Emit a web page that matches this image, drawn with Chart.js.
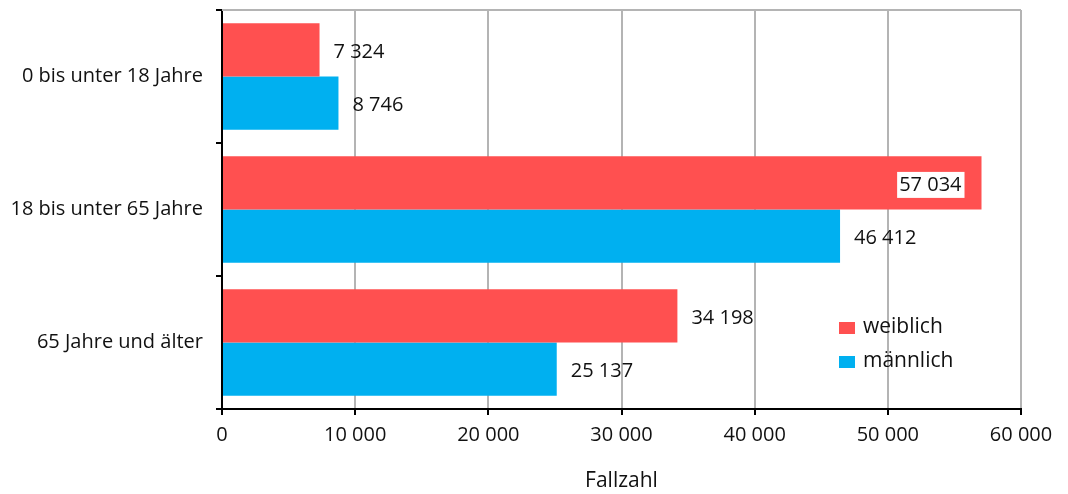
<!DOCTYPE html>
<html>
<head>
<meta charset="utf-8">
<script src="https://cdn.jsdelivr.net/npm/chart.js@4/dist/chart.umd.min.js"></script>
<style>
html,body{margin:0;padding:0;background:#fff;}
canvas{display:block;}
</style>
</head>
<body>
<canvas id="c" width="1068" height="494"></canvas>
<script>
const categories = ['0 bis unter 18 Jahre', '18 bis unter 65 Jahre', '65 Jahre und älter'];
const seriesNames = ['weiblich', 'männlich'];
const weiblich = [7324, 57034, 34198];
const maennlich = [8746, 46412, 25137];
const xTicks = [0, 10000, 20000, 30000, 40000, 50000, 60000];
const axisTitle = 'Fallzahl';

const RED = '#FF5050';
const BLUE = '#00B0F0';
const TXT = '#111111';
const FONT = '"Open Sans", sans-serif';

function fmt(v) {
  return String(Math.round(v)).replace(/\B(?=(\d{3})+(?!\d))/g, ' ');
}

const labelPlugin = {
  id: 'barLabels',
  afterDatasetsDraw(chart) {
    const ctx = chart.ctx;
    const area = chart.chartArea;
    ctx.save();
    ctx.font = '20px ' + FONT;
    ctx.textBaseline = 'middle';
    chart.data.datasets.forEach((ds, di) => {
      const meta = chart.getDatasetMeta(di);
      meta.data.forEach((bar, i) => {
        const t = fmt(ds.data[i]);
        const w = ctx.measureText(t).width;
        const y = bar.y + 2;
        if (bar.x + 14 + w > area.right - 4) {
          const xr = bar.x - 20;
          ctx.fillStyle = '#fff';
          ctx.fillRect(xr - w - 2, bar.y - 11, w + 5, 26);
          ctx.fillStyle = TXT;
          ctx.textAlign = 'right';
          ctx.fillText(t, xr, y);
        } else {
          ctx.fillStyle = TXT;
          ctx.textAlign = 'left';
          ctx.fillText(t, bar.x + 14, y);
        }
      });
    });
    ctx.restore();
  }
};

const framePlugin = {
  id: 'frame',
  beforeDatasetsDraw(chart) {
    const ctx = chart.ctx;
    const a = chart.chartArea;
    ctx.save();
    ctx.strokeStyle = '#b4b4b4';
    ctx.lineWidth = 2;
    ctx.beginPath();
    ctx.moveTo(a.left, a.top);
    ctx.lineTo(a.right, a.top);
    ctx.stroke();
    ctx.restore();
  }
};

const legendPlugin = {
  id: 'innerLegend',
  afterDraw(chart) {
    const ctx = chart.ctx;
    const a = chart.chartArea;
    const x0 = a.left + 617;
    const ys = [a.top + 318, a.top + 352];
    const cols = [RED, BLUE];
    ctx.save();
    ctx.font = '21px ' + FONT;
    ctx.textBaseline = 'middle';
    ctx.textAlign = 'left';
    seriesNames.forEach((n, i) => {
      ctx.fillStyle = cols[i];
      ctx.fillRect(x0, ys[i] - 6, 16, 12);
      ctx.fillStyle = TXT;
      ctx.fillText(n, x0 + 24, ys[i] - 1);
    });
    ctx.restore();
  }
};

new Chart(document.getElementById('c'), {
  type: 'bar',
  data: {
    labels: categories,
    datasets: [
      { label: seriesNames[0], data: weiblich, backgroundColor: RED, barPercentage: 1, categoryPercentage: 0.8 },
      { label: seriesNames[1], data: maennlich, backgroundColor: BLUE, barPercentage: 1, categoryPercentage: 0.8 }
    ]
  },
  options: {
    indexAxis: 'y',
    responsive: false,
    devicePixelRatio: 1,
    animation: false,
    layout: { padding: { top: 10, right: 47, left: 0, bottom: 0 } },
    plugins: { legend: { display: false }, tooltip: { enabled: false } },
    scales: {
      x: {
        min: xTicks[0],
        max: xTicks[xTicks.length - 1],
        afterBuildTicks(scale) { scale.ticks = xTicks.map(v => ({ value: v })); },
        afterFit(scale) { scale.height = 85; },
        grid: { color: '#b4b4b4', lineWidth: 2, tickColor: '#000', tickLength: 6 },
        border: { display: true, color: '#000', width: 2 },
        ticks: { color: TXT, font: { family: FONT, size: 20 }, padding: 8, callback: v => fmt(v), maxRotation: 0 },
        title: { display: true, text: axisTitle, color: TXT, font: { family: FONT, size: 21 }, padding: { top: 10, bottom: 0 } }
      },
      y: {
        afterFit(scale) { scale.width = 222; scale.paddingTop = 0; scale.paddingBottom = 0; },
        grid: { offset: true, drawOnChartArea: false, tickColor: '#000', tickLength: 6, lineWidth: 2 },
        border: { display: true, color: '#000', width: 2 },
        ticks: { color: TXT, font: { family: FONT, size: 20 }, padding: 13 }
      }
    }
  },
  plugins: [framePlugin, labelPlugin, legendPlugin]
});
</script>
</body>
</html>
